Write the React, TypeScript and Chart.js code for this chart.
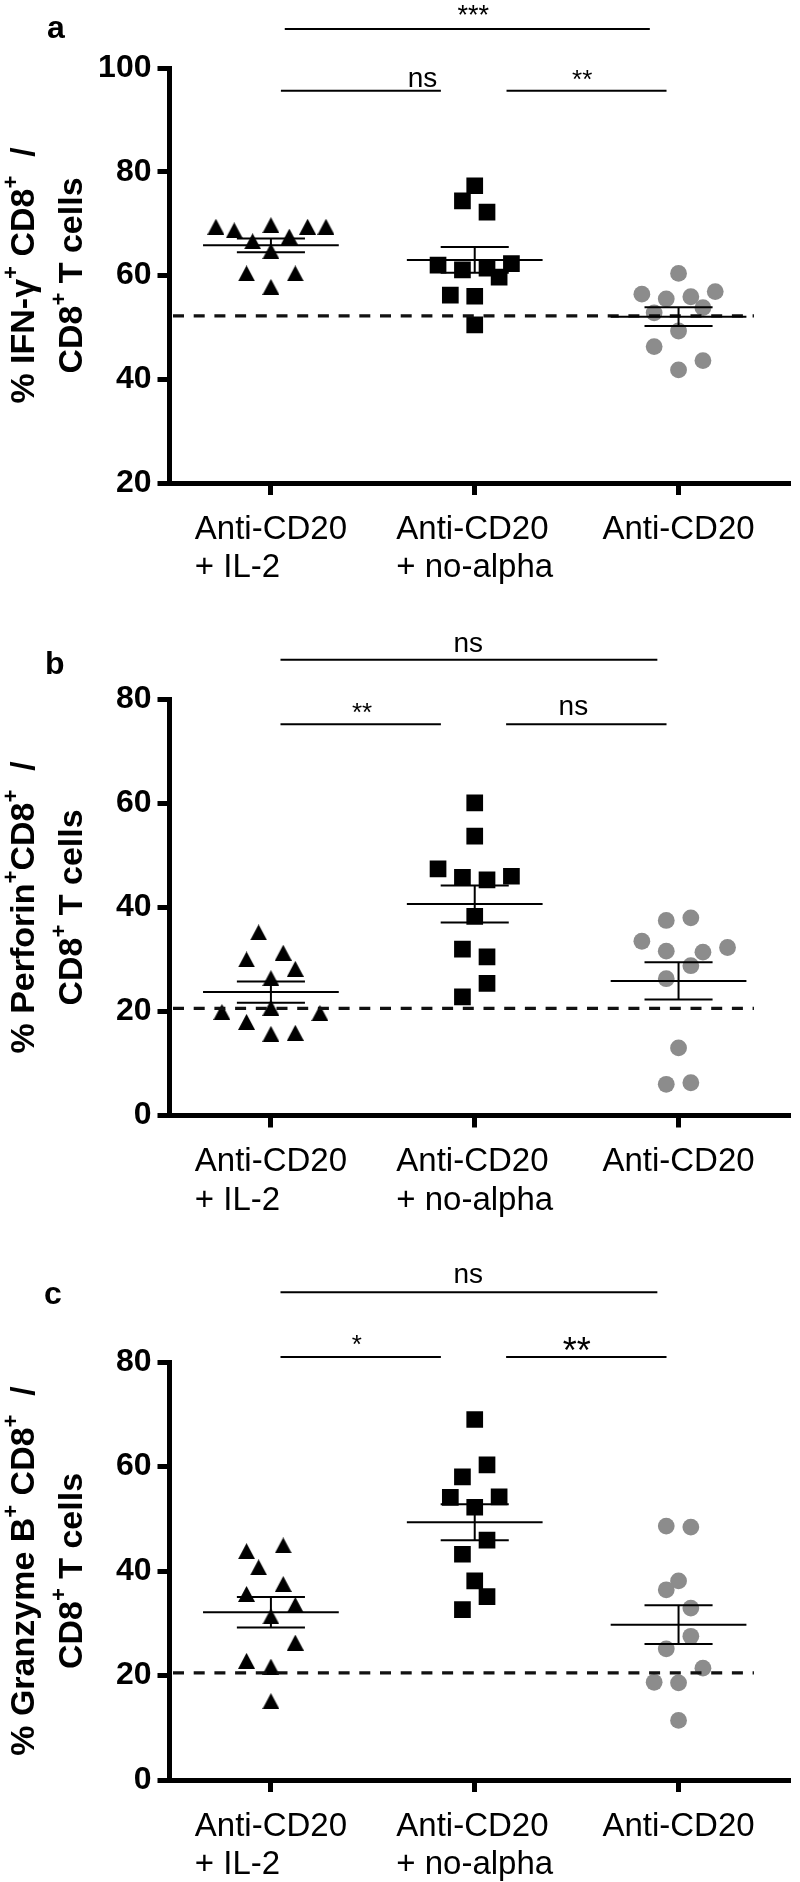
import React, { useEffect, useRef } from 'react';
import { Chart, registerables } from 'chart.js';

Chart.register(...registerables);

const FONT = "'Liberation Sans', Arial, Helvetica, sans-serif";

// ---------------- data ----------------
const groupPositions = [1, 2, 3];
const groupLabelLines = [['Anti-CD20', '+ IL-2'], ['Anti-CD20', '+ no-alpha'], ['Anti-CD20']];

// panel a : IFN-gamma
const ifngIL2 = [69.4, 68.7, 69.7, 69.4, 69.4, 66.6, 67.5, 64.7, 60.4, 60.4, 57.8];
const ifngIL2Slot = [-3, -2, 0, 2, 3, -1, 1, 0, -1.33, 1.33, 0];
const ifngNoAlpha = [77.3, 74.4, 72.2, 62.0, 61.1, 61.4, 62.3, 59.7, 56.2, 56.0, 50.5];
const ifngNoAlphaSlot = [0, -0.67, 0.67, -2, -0.67, 0.67, 2, 1.33, -1.33, 0, 0];
const ifngAnti = [60.4, 56.4, 55.5, 55.9, 56.9, 53.8, 52.8, 49.3, 46.3, 43.6, 41.8];
const ifngAntiSlot = [0, -2, -0.67, 0.67, 2, 1.33, -1.33, 0, -1.33, 1.33, 0];
const ifngControl = 52.2;
const ifngTicks = [20, 40, 60, 80, 100];
const ifngSigLabels = ['***', 'ns', '**'];
const ifngSigLevels = [107.5, 95.6, 95.6];

// panel b : Perforin
const perfIL2 = [35.2, 30.0, 31.3, 28.2, 26.4, 19.9, 20.7, 19.7, 18.0, 15.7, 15.9];
const perfIL2Slot = [-0.67, -1.33, 0.67, 1.33, 0, -2.67, 0, 2.67, -1.33, 0, 1.33];
const perfNoAlpha = [60.1, 53.7, 47.4, 45.8, 45.3, 46.0, 38.3, 32.0, 30.5, 25.4, 22.8];
const perfNoAlphaSlot = [0, 0, -2, -0.67, 0.67, 2, 0, -0.67, 0.67, 0.67, -0.67];
const perfAnti = [37.5, 38.0, 33.5, 31.6, 31.4, 32.3, 28.8, 26.3, 13.0, 6.0, 6.3];
const perfAntiSlot = [-0.67, 0.67, -2, -0.67, 1.33, 2.67, 0.67, -0.67, 0, -0.67, 0.67];
const perfControl = 20.6;
const perfTicks = [0, 20, 40, 60, 80];
const perfSigLabels = ['ns', '**', 'ns'];
const perfSigLevels = [87.6, 75.2, 75.2];

// panel c : Granzyme B
const gzbIL2 = [43.8, 44.9, 40.7, 37.5, 35.6, 33.5, 31.3, 26.3, 22.8, 21.7, 15.1];
const gzbIL2Slot = [-1.33, 0.67, -0.67, 0.67, -1.33, 1.33, 0, 1.33, -1.33, 0, 0];
const gzbNoAlpha = [69.0, 60.3, 58.0, 54.1, 54.2, 52.2, 45.9, 43.2, 38.1, 35.1, 32.6];
const gzbNoAlphaSlot = [0, 0.67, -0.67, -1.33, 1.33, 0, 0.67, -0.67, 0, 0.67, -0.67];
const gzbAnti = [48.6, 48.4, 38.1, 36.4, 32.9, 27.5, 25.1, 21.4, 18.7, 18.6, 11.4];
const gzbAntiSlot = [-0.67, 0.67, 0, -0.67, 0.67, 0.67, -0.67, 1.33, -1.33, 0, 0];
const gzbControl = 20.5;
const gzbTicks = [0, 20, 40, 60, 80];
const gzbSigLabels = ['ns', '*', '**'];
const gzbSigLevels = [93.35, 80.96, 80.96];

// ---------------- layout / style ----------------
const SLOT = 0.09; // category units per marker slot
type Run = [string, boolean];
type SigGeom = { x1: number; x2: number; tx: number; size: number; dy: number };
type Group = { values: number[]; slots: number[]; marker: 'triangle' | 'square' | 'circle'; color: string };
interface PanelSpec {
  letter: string;
  title1: Run[];
  title2: Run[];
  groups: Group[];
  control: number;
  ticks: number[];
  sigLabels: string[];
  sigLevels: number[];
  sigGeom: SigGeom[];
  height: number;
  plotTop: number;
  xAxisHeight: number;
  letterX: number;
  letterY: number;
}

const GRAY = '#8c8c8c';
const pairGeomA: SigGeom[] = [
  { x1: 1.068, x2: 2.859, tx: 1.993, size: 27, dy: 5 },
  { x1: 1.049, x2: 1.834, tx: 1.744, size: 28, dy: 4 },
  { x1: 2.156, x2: 2.941, tx: 2.527, size: 26, dy: 3 },
];
const pairGeomB: SigGeom[] = [
  { x1: 1.047, x2: 2.896, tx: 1.968, size: 28, dy: 8 },
  { x1: 1.047, x2: 1.834, tx: 1.447, size: 26, dy: 3 },
  { x1: 2.154, x2: 2.941, tx: 2.484, size: 28, dy: 9 },
];
const pairGeomC: SigGeom[] = [
  { x1: 1.047, x2: 2.896, tx: 1.968, size: 28, dy: 9 },
  { x1: 1.047, x2: 1.834, tx: 1.422, size: 26, dy: 4 },
  { x1: 2.154, x2: 2.941, tx: 2.501, size: 36, dy: -6 },
];

const panels: PanelSpec[] = [
  {
    letter: 'a',
    title1: [['% IFN-\u03B3', false], ['+', true], [' CD8', false], ['+', true], ['  /', false]],
    title2: [['CD8', false], ['+', true], [' T cells', false]],
    groups: [
      { values: ifngIL2, slots: ifngIL2Slot, marker: 'triangle', color: '#000' },
      { values: ifngNoAlpha, slots: ifngNoAlphaSlot, marker: 'square', color: '#000' },
      { values: ifngAnti, slots: ifngAntiSlot, marker: 'circle', color: GRAY },
    ],
    control: ifngControl,
    ticks: ifngTicks,
    sigLabels: ifngSigLabels,
    sigLevels: ifngSigLevels,
    sigGeom: pairGeomA,
    height: 627,
    plotTop: 68,
    xAxisHeight: 144,
    letterX: 47,
    letterY: 38,
  },
  {
    letter: 'b',
    title1: [['% Perforin', false], ['+', true], ['CD8', false], ['+', true], ['  /', false]],
    title2: [['CD8', false], ['+', true], [' T cells', false]],
    groups: [
      { values: perfIL2, slots: perfIL2Slot, marker: 'triangle', color: '#000' },
      { values: perfNoAlpha, slots: perfNoAlphaSlot, marker: 'square', color: '#000' },
      { values: perfAnti, slots: perfAntiSlot, marker: 'circle', color: GRAY },
    ],
    control: perfControl,
    ticks: perfTicks,
    sigLabels: perfSigLabels,
    sigLevels: perfSigLevels,
    sigGeom: pairGeomB,
    height: 627,
    plotTop: 72.4,
    xAxisHeight: 138.5,
    letterX: 45,
    letterY: 46.6,
  },
  {
    letter: 'c',
    title1: [['% Granzyme B', false], ['+', true], [' CD8', false], ['+', true], ['  /', false]],
    title2: [['CD8', false], ['+', true], [' T cells', false]],
    groups: [
      { values: gzbIL2, slots: gzbIL2Slot, marker: 'triangle', color: '#000' },
      { values: gzbNoAlpha, slots: gzbNoAlphaSlot, marker: 'square', color: '#000' },
      { values: gzbAnti, slots: gzbAntiSlot, marker: 'circle', color: GRAY },
    ],
    control: gzbControl,
    ticks: gzbTicks,
    sigLabels: gzbSigLabels,
    sigLevels: gzbSigLevels,
    sigGeom: pairGeomC,
    height: 628,
    plotTop: 108,
    xAxisHeight: 102,
    letterX: 44,
    letterY: 50,
  },
];

// ---------------- helpers ----------------
const mean = (a: number[]) => a.reduce((s, v) => s + v, 0) / a.length;
const sem = (a: number[]) => {
  const m = mean(a);
  const sd = Math.sqrt(a.reduce((s, v) => s + (v - m) * (v - m), 0) / (a.length - 1));
  return sd / Math.sqrt(a.length);
};

function makeTriangle(w: number, h: number, color: string) {
  const c = document.createElement('canvas');
  c.width = w;
  c.height = h;
  const g = c.getContext('2d')!;
  g.fillStyle = color;
  g.beginPath();
  g.moveTo(w / 2, 0);
  g.lineTo(w, h);
  g.lineTo(0, h);
  g.closePath();
  g.fill();
  return c;
}

function drawRuns(ctx: CanvasRenderingContext2D, runs: Run[], size: number, supSize: number, rise: number) {
  const widths = runs.map(([t, sup]) => {
    ctx.font = `bold ${sup ? supSize : size}px ${FONT}`;
    return ctx.measureText(t).width;
  });
  const total = widths.reduce((s, w) => s + w, 0);
  let x = -total / 2;
  runs.forEach(([t, sup], i) => {
    ctx.font = `bold ${sup ? supSize : size}px ${FONT}`;
    ctx.fillText(t, x, sup ? -rise : 0);
    x += widths[i];
  });
}

function Panel({ spec }: { spec: PanelSpec }) {
  const ref = useRef<HTMLCanvasElement | null>(null);

  useEffect(() => {
    const canvas = ref.current;
    if (!canvas) return;
    const tri = makeTriangle(17, 16, '#000');

    const datasets = spec.groups.map((g, gi) => ({
      label: groupLabelLines[gi].join(' '),
      data: g.values.map((v, i) => ({ x: groupPositions[gi] + g.slots[i] * SLOT, y: v })),
      pointStyle: g.marker === 'triangle' ? (tri as any) : g.marker === 'square' ? 'rect' : 'circle',
      pointRadius: g.marker === 'square' ? 11.8 : g.marker === 'circle' ? 8.4 : 9,
      pointBackgroundColor: g.color,
      pointBorderColor: g.color,
      pointBorderWidth: 0,
      showLine: false,
    }));

    const overlay = {
      id: 'overlay' + spec.letter,
      afterDatasetsDraw(chart: any) {
        const { ctx, chartArea } = chart;
        const xs = chart.scales.x;
        const ys = chart.scales.y;
        ctx.save();
        // control (dashed) line
        const yb = ys.getPixelForValue(spec.control);
        ctx.strokeStyle = '#111';
        ctx.lineWidth = 3.3;
        ctx.setLineDash([11, 9.7]);
        ctx.beginPath();
        ctx.moveTo(chartArea.left + 4, yb);
        ctx.lineTo(xs.getPixelForValue(3.37), yb);
        ctx.stroke();
        ctx.setLineDash([]);
        // mean +/- SEM
        ctx.strokeStyle = '#000';
        ctx.lineWidth = 2;
        const seg = (x1: number, y1: number, x2: number, y2: number) => {
          ctx.beginPath();
          ctx.moveTo(xs.getPixelForValue(x1), ys.getPixelForValue(y1));
          ctx.lineTo(xs.getPixelForValue(x2), ys.getPixelForValue(y2));
          ctx.stroke();
        };
        spec.groups.forEach((g, gi) => {
          const m = mean(g.values);
          const s = sem(g.values);
          const c = groupPositions[gi];
          seg(c - 0.333, m, c + 0.333, m);
          seg(c - 0.167, m + s, c + 0.167, m + s);
          seg(c - 0.167, m - s, c + 0.167, m - s);
          seg(c, m - s, c, m + s);
        });
        ctx.restore();
      },
      afterDraw(chart: any) {
        const { ctx, chartArea } = chart;
        const xs = chart.scales.x;
        const ys = chart.scales.y;
        ctx.save();
        ctx.fillStyle = '#000';
        ctx.strokeStyle = '#000';
        // panel letter
        ctx.font = `bold 32px ${FONT}`;
        ctx.textBaseline = 'alphabetic';
        ctx.textAlign = 'left';
        ctx.fillText(spec.letter, spec.letterX, spec.letterY);
        // significance bars
        ctx.lineWidth = 2;
        spec.sigGeom.forEach((gm, i) => {
          const py = ys.getPixelForValue(spec.sigLevels[i]);
          ctx.beginPath();
          ctx.moveTo(xs.getPixelForValue(gm.x1), py);
          ctx.lineTo(xs.getPixelForValue(gm.x2), py);
          ctx.stroke();
          ctx.font = `${gm.size}px ${FONT}`;
          ctx.textAlign = 'center';
          ctx.fillText(spec.sigLabels[i], xs.getPixelForValue(gm.tx), py - gm.dy);
        });
        // category labels (left-aligned block centred under tick)
        ctx.font = `33px ${FONT}`;
        ctx.textAlign = 'left';
        groupLabelLines.forEach((lines, gi) => {
          const w = Math.max(...lines.map((l) => ctx.measureText(l).width));
          const left = xs.getPixelForValue(groupPositions[gi]) - w / 2;
          lines.forEach((l, li) => {
            ctx.fillText(l, left, chartArea.bottom + 55.5 + li * 38.7);
          });
        });
        // rotated y title
        const cy = (chartArea.top + chartArea.bottom) / 2;
        ctx.textAlign = 'left';
        ctx.save();
        ctx.translate(34, cy);
        ctx.rotate(-Math.PI / 2);
        drawRuns(ctx, spec.title1, 34, 22, 16);
        ctx.restore();
        ctx.save();
        ctx.translate(82, cy);
        ctx.rotate(-Math.PI / 2);
        drawRuns(ctx, spec.title2, 34, 22, 16);
        ctx.restore();
        ctx.restore();
      },
    };

    const chart = new Chart(canvas, {
      type: 'scatter',
      data: { datasets: datasets as any },
      options: {
        animation: false,
        responsive: false,
        devicePixelRatio: 1,
        events: [],
        layout: { padding: { top: spec.plotTop, left: 0, right: 0, bottom: 0 } },
        plugins: { legend: { display: false }, tooltip: { enabled: false } },
        scales: {
          x: {
            type: 'linear',
            min: 0.5,
            max: 3.538,
            afterBuildTicks: (s: any) => {
              s.ticks = groupPositions.map((v) => ({ value: v }));
            },
            ticks: { display: false },
            grid: { drawOnChartArea: false, drawTicks: true, tickLength: 12, lineWidth: 5, tickWidth: 5, color: '#000' },
            border: { display: true, width: 5, color: '#000' },
            afterFit: (s: any) => {
              s.height = spec.xAxisHeight;
            },
          },
          y: {
            type: 'linear',
            min: spec.ticks[0],
            max: spec.ticks[spec.ticks.length - 1],
            afterBuildTicks: (s: any) => {
              s.ticks = spec.ticks.map((v) => ({ value: v }));
            },
            ticks: { font: { family: FONT, size: 32, weight: 'bold' }, color: '#000', padding: 6 },
            grid: { drawOnChartArea: false, drawTicks: true, tickLength: 11.5, lineWidth: 5, tickWidth: 5, color: '#000' },
            border: { display: true, width: 5, color: '#000' },
            afterFit: (s: any) => {
              s.width = 169;
            },
          },
        },
      } as any,
      plugins: [overlay],
    });
    return () => chart.destroy();
  }, [spec]);

  return (
    <canvas
      ref={ref}
      width={800}
      height={spec.height}
      style={{ display: 'block', width: '800px', height: `${spec.height}px` }}
    />
  );
}

export default function App() {
  return (
    <div style={{ position: 'absolute', left: 0, top: 0, width: 800, background: '#fff' }}>
      {panels.map((p) => (
        <Panel key={p.letter} spec={p} />
      ))}
    </div>
  );
}
